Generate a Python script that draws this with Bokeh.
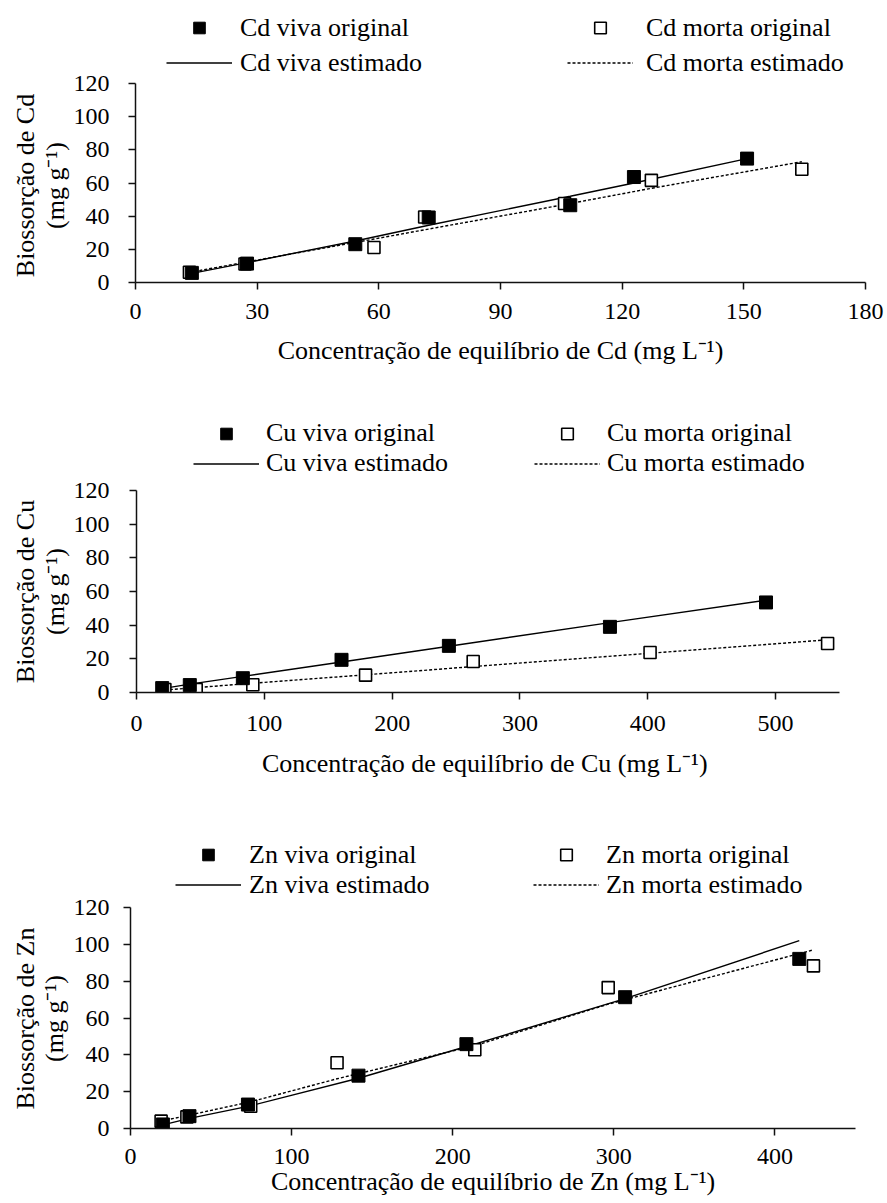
import math
from bokeh.plotting import figure
from bokeh.models import Legend, LegendItem, FixedTicker, Range1d, Label
from bokeh.layouts import column, row
from bokeh.embed import file_html
from bokeh.resources import INLINE

# ---------------- data ----------------
y_ticks = [0, 20, 40, 60, 80, 100, 120]

cd_x_ticks = [0, 30, 60, 90, 120, 150, 180]
cd_viva_x = [13.9, 27.5, 54.2, 72.3, 107.2, 122.9, 150.8]
cd_viva_y = [5.8, 11.4, 23.1, 39.2, 46.6, 63.6, 74.7]
cd_viva_est = [5.5, 12.0, 25.0, 34.5, 52.0, 60.0, 74.7]
cd_morta_x = [13.3, 27.0, 58.8, 71.3, 105.8, 127.2, 164.3]
cd_morta_y = [6.2, 11.2, 21.1, 39.5, 47.6, 61.6, 68.3]
cd_morta_est = [6.1, 12.2, 26.2, 31.8, 47.0, 56.8, 72.8]

cu_x_ticks = [0, 100, 200, 300, 400, 500]
cu_viva_x = [20.1, 41.7, 83.2, 160.4, 244.4, 370.4, 492.5]
cu_viva_y = [2.6, 4.4, 8.5, 19.4, 27.7, 39.0, 53.5]
cu_viva_est = [2.3, 5.0, 9.6, 18.1, 27.5, 41.5, 54.8]
cu_morta_x = [22.2, 46.7, 91.0, 179.2, 263.4, 401.8, 540.7]
cu_morta_y = [1.8, 1.8, 4.6, 10.3, 18.4, 23.8, 29.1]
cu_morta_est = [1.5, 2.9, 5.5, 10.5, 15.4, 23.3, 31.3]

zn_x_ticks = [0, 100, 200, 300, 400]
zn_viva_x = [20.1, 36.6, 72.9, 141.5, 208.5, 307.0, 415.1]
zn_viva_y = [2.2, 6.7, 13.0, 28.7, 45.8, 71.3, 92.1]
zn_viva_est = [2.0, 5.5, 12.0, 27.3, 44.5, 70.5, 102.0]
zn_morta_x = [19.0, 35.0, 74.6, 128.2, 213.7, 296.5, 423.9]
zn_morta_y = [4.0, 6.3, 12.1, 35.7, 42.8, 76.5, 88.3]
zn_morta_est = [4.0, 7.0, 14.5, 27.0, 45.0, 67.5, 97.0]

Y_MAX = 120
SUP = "\u207b\u00b9"
FONT = "Liberation Serif"
W = 887
WT = 70  # width of the strip that holds the rotated y titles

VIVA_MARK = dict(marker="square", size=13, fill_color="black", line_color="black")
MORTA_MARK = dict(marker="square", size=12, fill_color="white", line_color="black",
                  line_width=1.6)
VIVA_LINE = dict(line_color="black", line_width=1.4)
MORTA_LINE = dict(line_color="black", line_width=1.4, line_dash="3 2")


def make_title_strip(metal, g):
    h = g["bottom"] - g["top"]
    tf = figure(frame_width=WT, frame_height=h, min_border=0,
                x_axis_type=None, y_axis_type=None,
                x_range=Range1d(0, 1), y_range=Range1d(0, 1),
                output_backend="svg", toolbar_location=None)
    tf.outline_line_color = None
    tf.grid.visible = False
    yc = g["bottom"] - g["tcy"]
    for text, x in (("Biossorção de " + metal, g["t1x"]),
                    ("(mg g" + SUP + ")", g["t2x"])):
        tf.add_layout(Label(x=x, y=yc, x_units="screen", y_units="screen",
                            text=text, angle=math.pi / 2, text_align="center",
                            text_baseline="middle", text_font=FONT,
                            text_font_size="26px", text_color="black"))
    return tf


def make_panel(metal, vx, vy, vest, mx, my, mest, xticks, xmax, xtitle, g):
    frame_h = g["y0"] - g["top"]
    y_end = Y_MAX * frame_h / (g["y0"] - g["y120"])
    bl = g["fx"] - WT
    p = figure(frame_width=g["fw"], frame_height=frame_h,
               min_border_left=bl, min_border_right=W - WT - bl - g["fw"],
               min_border_top=0, min_border_bottom=g["bottom"] - g["y0"],
               x_range=Range1d(0, xmax), y_range=Range1d(0, y_end),
               output_backend="svg", toolbar_location=None)
    p.grid.visible = False
    p.outline_line_color = None

    lv = p.line(vx, vest, **VIVA_LINE)
    lm = p.line(mx, mest, **MORTA_LINE)
    sm = p.scatter(mx, my, **MORTA_MARK)
    sv = p.scatter(vx, vy, **VIVA_MARK)

    for ax in (p.xaxis[0], p.yaxis[0]):
        ax.axis_line_color = "#111111"
        ax.axis_line_width = 1.5
        ax.major_tick_line_color = "#111111"
        ax.major_tick_line_width = 1.5
        ax.major_tick_out = 7
        ax.major_tick_in = 0
        ax.minor_tick_line_color = None
        ax.major_label_text_font = FONT
        ax.major_label_text_font_size = "24px"
        ax.major_label_text_color = "black"
        ax.axis_label_text_font = FONT
        ax.axis_label_text_font_size = "26px"
        ax.axis_label_text_font_style = "normal"
        ax.axis_label_text_color = "black"

    p.xaxis.ticker = FixedTicker(ticks=xticks)
    p.yaxis.ticker = FixedTicker(ticks=y_ticks)
    p.yaxis.bounds = (0, Y_MAX)
    p.xaxis.major_label_standoff = g["xls"]
    p.xaxis.axis_label_standoff = g["xas"]
    p.yaxis.major_label_standoff = g["yls"]
    p.xaxis.axis_label = xtitle

    common = dict(label_text_font=FONT, label_text_font_size="26px",
                  label_text_color="black", glyph_width=66, glyph_height=29,
                  label_height=29, spacing=g["sp"], padding=0, margin=0,
                  border_line_color=None, background_fill_alpha=0.0)
    ly = g["y0"] - g["lb"]
    leg1 = Legend(items=[LegendItem(label=metal + " viva original", renderers=[sv]),
                         LegendItem(label=metal + " viva estimado", renderers=[lv])],
                  location=(g["l1"] - g["fx"], ly), label_standoff=g["s1"], **common)
    leg2 = Legend(items=[LegendItem(label=metal + " morta original", renderers=[sm]),
                         LegendItem(label=metal + " morta estimado", renderers=[lm])],
                  location=(g["l2"] - g["fx"], ly), label_standoff=g["s2"], **common)
    p.add_layout(leg1)
    p.add_layout(leg2)
    return p


# page-pixel layout of each panel
g1 = dict(top=0, y120=83, y0=282, bottom=398, fx=132, fw=730,
          lb=77.5, l1=163, l2=564, sp=5, s1=8, s2=13,
          xls=14, xas=14, yls=19, t1x=25, t2x=55, tcy=185)
g2 = dict(top=398, y120=490, y0=692, bottom=796, fx=136, fw=703,
          lb=478, l1=193, l2=534, sp=-2, s1=7, s2=7,
          xls=16, xas=15, yls=20, t1x=25, t2x=55, tcy=591)
g3 = dict(top=796, y120=907, y0=1128, bottom=1203, fx=128, fw=725,
          lb=899.5, l1=173, l2=531, sp=-3, s1=8, s2=7,
          xls=13, xas=0, yls=14, t1x=25, t2x=54, tcy=1018)

t1 = make_title_strip("Cd", g1)
p1 = make_panel("Cd", cd_viva_x, cd_viva_y, cd_viva_est, cd_morta_x, cd_morta_y,
                cd_morta_est, cd_x_ticks, 180,
                "Concentração de equilíbrio de Cd (mg L" + SUP + ")", g1)
t2 = make_title_strip("Cu", g2)
p2 = make_panel("Cu", cu_viva_x, cu_viva_y, cu_viva_est, cu_morta_x, cu_morta_y,
                cu_morta_est, cu_x_ticks, 550,
                "Concentração de equilíbrio  de Cu (mg L" + SUP + ")", g2)
t3 = make_title_strip("Zn", g3)
p3 = make_panel("Zn", zn_viva_x, zn_viva_y, zn_viva_est, zn_morta_x, zn_morta_y,
                zn_morta_est, zn_x_ticks, 450,
                "Concentração de equilíbrio de Zn (mg L" + SUP + ")", g3)

layout = column(row(t1, p1, spacing=0), row(t2, p2, spacing=0),
                row(t3, p3, spacing=0), spacing=0)
open("out.html", "w").write(file_html(layout, INLINE))
